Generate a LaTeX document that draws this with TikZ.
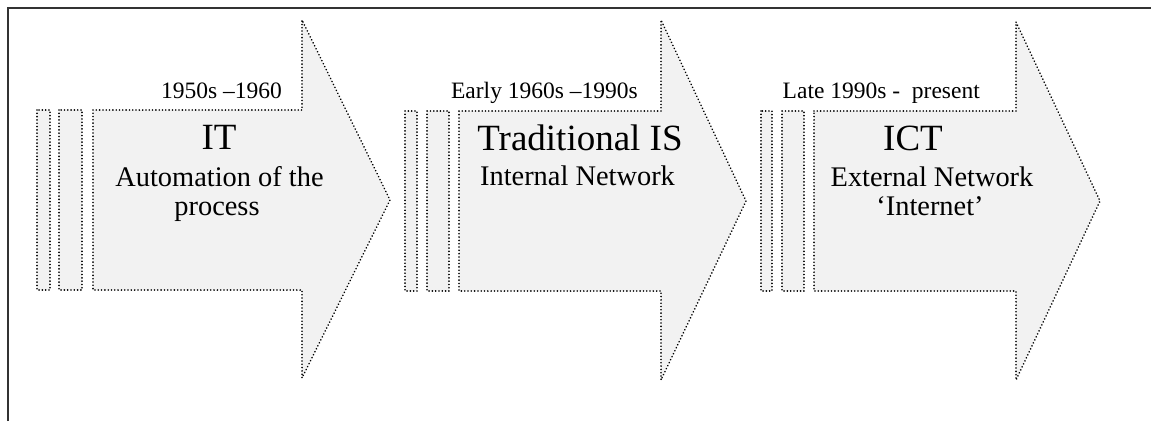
\documentclass[tikz,border=0pt]{standalone}
\usepackage{fontspec}
\setmainfont{Liberation Serif}
\tikzset{
  dotline/.style={line width=1.8pt, dash pattern=on 0.01pt off 3.3pt, line cap=round, draw=black},
  arrowshape/.style={dotline, fill=black!5, line join=miter},
  framel/.style={draw=black!80, line width=1.5pt},
  lbl/.style={font=\fontsize{23.5}{27}\selectfont, inner sep=0pt},
  ttl/.style={font=\fontsize{37}{40}\selectfont, inner sep=0pt},
  sub/.style={font=\fontsize{28.4}{32}\selectfont, inner sep=0pt},
}
\begin{document}
\begin{tikzpicture}[x=1pt,y=-1pt]
\useasboundingbox (0,0) rectangle (1151,421);
% frame (left and top edges)
\draw[framel] (8,421) -- (8,8) -- (1151,8);
% arrow 1
\draw[arrowshape] (37,110) rectangle (50,290);
\draw[arrowshape] (59,110) rectangle (82,290);
\draw[arrowshape] (93,110) -- (302,110) -- (302,20) -- (390,200) -- (302,378) -- (302,290) -- (93,290) -- cycle;
% arrow 2
\draw[arrowshape] (405,111) rectangle (417,291);
\draw[arrowshape] (427,111) rectangle (449,291);
\draw[arrowshape] (459,111) -- (661,111) -- (661,20) -- (746,201) -- (661,380) -- (661,291) -- (459,291) -- cycle;
% arrow 3
\draw[arrowshape] (761,111) rectangle (772,291);
\draw[arrowshape] (782,111) rectangle (804,291);
\draw[arrowshape] (814,111) -- (1016,111) -- (1016,22) -- (1100,201) -- (1016,380) -- (1016,291) -- (814,291) -- cycle;
% labels
\node[lbl, anchor=base east] (d1) at (282,98) {1950s –1960};
\node[lbl, anchor=base east] (d2) at (638,98) {Early 1960s –1990s};
\node[lbl, anchor=base east] (d3) at (980,98) {Late 1990s -\ \ present};
% titles
\node[ttl, anchor=base] (t1) at (219,149) {IT};
\node[sub, anchor=base] (s1a) at (219.5,186.5) {Automation of the};
\node[sub, anchor=base] (s1b) at (217,215) {process};
\node[ttl, anchor=base] (t2) at (580,150) {Traditional IS};
\node[sub, anchor=base] (s2a) at (577.5,185.5) {Internal Network};
\node[ttl, anchor=base] (t3) at (913,150) {ICT};
\node[sub, anchor=base] (s3a) at (932,186.5) {External Network};
\node[sub, anchor=base] (s3b) at (930,215.5) {‘Internet’};
\end{tikzpicture}
\end{document}
